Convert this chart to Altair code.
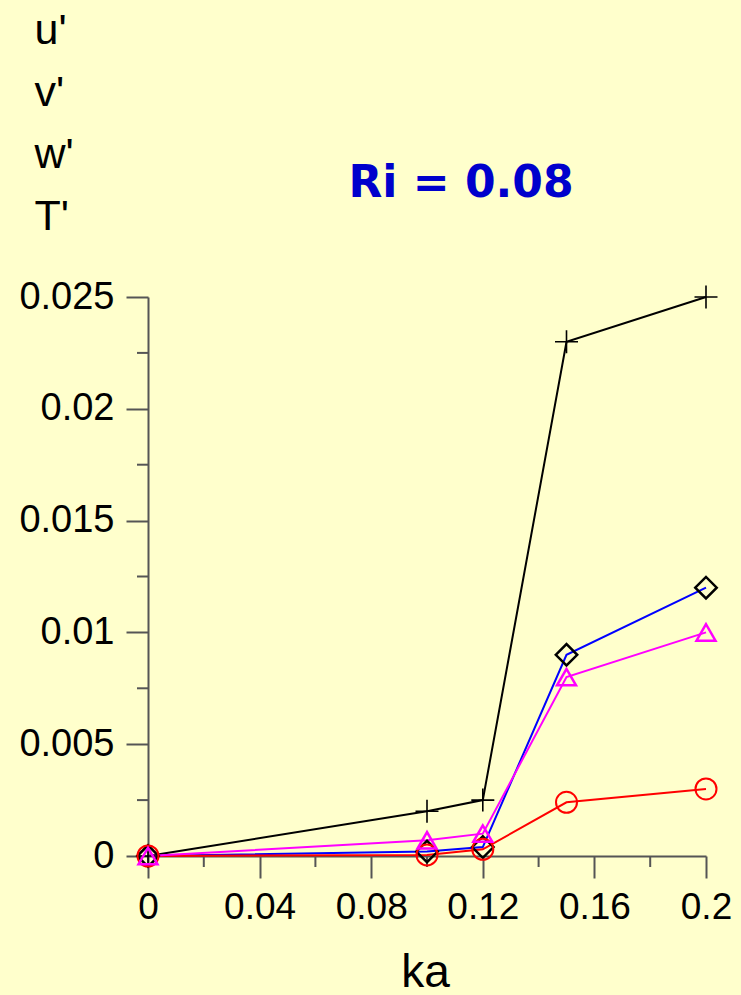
import altair as alt
import pandas as pd

# ---- data ----
KA = [0, 0.1, 0.12, 0.15, 0.2]
U_PRIME = [0, 0.002, 0.0025, 0.023, 0.025]
V_PRIME = [0, 0.0002, 0.0004, 0.009, 0.012]
W_PRIME = [0, 0.0007, 0.001, 0.008, 0.01]
T_PRIME = [0, 0.00005, 0.0003, 0.0024, 0.003]

SERIES = ["u'", "v'", "w'", "T'"]
LINE_COLORS = ["#000000", "#0000FF", "#FF00FF", "#FF0000"]
MARKER_COLORS = ["#000000", "#000000", "#FF00FF", "#FF0000"]

X_MAJOR = [0, 0.04, 0.08, 0.12, 0.16, 0.2]
X_MINOR = [0.02, 0.06, 0.1, 0.14, 0.18]
Y_MAJOR = [0, 0.005, 0.01, 0.015, 0.02, 0.025]
Y_MINOR = [0.0025, 0.0075, 0.0125, 0.0175, 0.0225]

TITLE = "Ri = 0.08"
X_TITLE = "ka"
Y_TITLE = ["u'", "v'", "w'", "T'"]

# ---- styling ----
W, H = 558, 559
AX = "#555555"
FONT = "Liberation Sans"

xscale = alt.Scale(domain=[0, 0.2], nice=False, zero=False)
yscale = alt.Scale(domain=[0, 0.025], nice=False, zero=False)

x_axis = alt.Axis(values=X_MAJOR, format="~g", tickSize=22, tickWidth=2, tickColor=AX,
                  domainColor=AX, domainWidth=2, labelFontSize=37, labelFont=FONT,
                  labelColor="black", labelPadding=11, grid=False, labelFlush=False,
                  labelOverlap=False, title=X_TITLE, titleFont=FONT, titleFontSize=46,
                  titleFontWeight="normal", titleColor="black", titleX=277, titleY=130,
                  titleBaseline="alphabetic", titleAlign="center")
y_axis = alt.Axis(values=Y_MAJOR, format="~g", tickSize=22, tickWidth=2, tickColor=AX,
                  domainColor=AX, domainWidth=2, labelFontSize=38, labelFont=FONT,
                  labelColor="black", labelPadding=12, grid=False, labelFlush=False,
                  labelOverlap=False, title=Y_TITLE, titleFont=FONT, titleFontSize=43,
                  titleFontWeight="normal", titleColor="black", titleAngle=0,
                  titleAlign="left", titleBaseline="alphabetic", titleX=-114, titleY=-254,
                  titleLineHeight=62)

series_values = [U_PRIME, V_PRIME, W_PRIME, T_PRIME]
frames = []
for name, vals in zip(SERIES, series_values):
    frames.append(pd.DataFrame({"ka": KA, "val": vals, "series": name}))
df = pd.concat(frames, ignore_index=True)

shapes = {
    "u'": dict(shape="M-1,0L1,0M0,-1L0,1", size=529, strokeWidth=1.6),
    "v'": dict(shape="diamond", size=460, strokeWidth=2.5),
    "w'": dict(shape="triangle-up", size=361, strokeWidth=2.5),
    "T'": dict(shape="circle", size=441, strokeWidth=2),
}

X = alt.X("ka:Q", scale=xscale, axis=x_axis)
Y = alt.Y("val:Q", scale=yscale, axis=y_axis)

layers = []
# minor ticks
layers.append(
    alt.Chart(pd.DataFrame({"ka": X_MINOR})).mark_rule(color=AX, strokeWidth=2).encode(
        x=X, y=alt.value(H), y2=alt.value(H + 11)
    )
)
layers.append(
    alt.Chart(pd.DataFrame({"val": Y_MINOR})).mark_rule(color=AX, strokeWidth=2).encode(
        y=Y, x=alt.value(-11), x2=alt.value(0)
    )
)

order = ["u'", "v'", "T'", "w'"]
for name in order:
    i = SERIES.index(name)
    sub = df[df.series == name]
    layers.append(alt.Chart(sub).mark_line(color=LINE_COLORS[i], strokeWidth=2).encode(x=X, y=Y))
for name in order:
    i = SERIES.index(name)
    sub = df[df.series == name]
    s = shapes[name]
    layers.append(alt.Chart(sub).mark_point(filled=False, color=MARKER_COLORS[i], opacity=1,
                                            shape=s["shape"], size=s["size"],
                                            strokeWidth=s["strokeWidth"]).encode(x=X, y=Y))

# title text
layers.append(
    alt.Chart(pd.DataFrame({"t": [TITLE]})).mark_text(
        font="DejaVu Sans", fontWeight="bold", fontSize=44, color="#0000CC",
        align="center", baseline="alphabetic"
    ).encode(text="t:N", x=alt.value(313), y=alt.value(-100))
)

chart = alt.layer(*layers).properties(
    width=W, height=H,
    autosize=alt.AutoSizeParams(type="none"),
    padding={"left": 148, "top": 297, "right": 35, "bottom": 139},
    background="#FFFFCC",
).configure_view(stroke=None)

chart.save("out.html", embed_options={"renderer": "svg", "actions": False})
